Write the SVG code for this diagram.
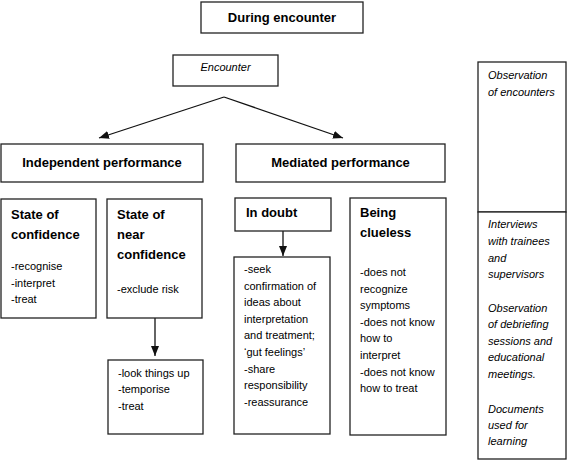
<svg xmlns="http://www.w3.org/2000/svg" width="568" height="461" viewBox="0 0 568 461">
<style>
rect.box{fill:#fff;stroke:#222;stroke-width:1.3}
text{font-family:"Liberation Sans",Arial,sans-serif;fill:#000}
.h{font-weight:bold;font-size:13px}
.b{font-size:11px}
.i{font-style:italic;font-size:11px}
.c{text-anchor:middle}
.conn{stroke:#111;stroke-width:1.3;fill:none}
</style>
<defs>
<marker id="ah" markerUnits="userSpaceOnUse" markerWidth="10" markerHeight="8" refX="10" refY="4" orient="auto">
<path d="M0,0 L10,4 L0,8 z" fill="#111"/>
</marker>
</defs>
<rect width="568" height="461" fill="#fff"/>
<g id="connectors">
<line class="conn" x1="224" y1="97" x2="99" y2="138" marker-end="url(#ah)"/>
<line class="conn" x1="224" y1="97" x2="343" y2="138" marker-end="url(#ah)"/>
<line class="conn" x1="155" y1="318" x2="155" y2="356" marker-end="url(#ah)"/>
<line class="conn" x1="283" y1="231" x2="283" y2="256" marker-end="url(#ah)"/>
</g>
<g id="during">
<rect class="box" x="201" y="2" width="162" height="31"/>
<text class="h c" x="282" y="22">During encounter</text>
</g>
<g id="encounter">
<rect class="box" x="173" y="55" width="105" height="31"/>
<text class="i c" x="225.5" y="71">Encounter</text>
</g>
<g id="independent">
<rect class="box" x="1" y="144" width="202" height="38"/>
<text class="h c" x="102" y="167">Independent performance</text>
</g>
<g id="mediated">
<rect class="box" x="236" y="144" width="209" height="38"/>
<text class="h c" x="340.5" y="167">Mediated performance</text>
</g>
<g id="confidence">
<rect class="box" x="1" y="199" width="95" height="119"/>
<text class="h" x="11" y="219">State of</text>
<text class="h" x="11" y="239">confidence</text>
<text class="b" x="11" y="270">-recognise</text>
<text class="b" x="11" y="287">-interpret</text>
<text class="b" x="11" y="303">-treat</text>
</g>
<g id="near-confidence">
<rect class="box" x="107" y="199" width="95" height="119"/>
<text class="h" x="117" y="219">State of</text>
<text class="h" x="117" y="239">near</text>
<text class="h" x="117" y="259">confidence</text>
<text class="b" x="117" y="293">-exclude risk</text>
</g>
<g id="near-actions">
<rect class="box" x="108" y="360" width="95" height="74"/>
<text class="b" x="118" y="377">-look things up</text>
<text class="b" x="118" y="393">-temporise</text>
<text class="b" x="118" y="410">-treat</text>
</g>
<g id="in-doubt">
<rect class="box" x="235" y="198" width="96" height="33"/>
<text class="h" x="246" y="217">In doubt</text>
</g>
<g id="doubt-actions">
<rect class="box" x="234" y="257" width="96" height="177"/>
<text class="b" x="244" y="273">-seek</text>
<text class="b" x="244" y="289.6">confirmation of</text>
<text class="b" x="244" y="306.2">ideas about</text>
<text class="b" x="244" y="322.8">interpretation</text>
<text class="b" x="244" y="339.4">and treatment;</text>
<text class="b" x="244" y="356">‘gut feelings’</text>
<text class="b" x="244" y="372.6">-share</text>
<text class="b" x="244" y="389.2">responsibility</text>
<text class="b" x="244" y="405.8">-reassurance</text>
</g>
<g id="clueless">
<rect class="box" x="350" y="198" width="96" height="237"/>
<text class="h" x="360" y="217">Being</text>
<text class="h" x="360" y="237">clueless</text>
<text class="b" x="360" y="276">-does not</text>
<text class="b" x="360" y="292.6">recognize</text>
<text class="b" x="360" y="309.2">symptoms</text>
<text class="b" x="360" y="325.8">-does not know</text>
<text class="b" x="360" y="342.4">how to</text>
<text class="b" x="360" y="359">interpret</text>
<text class="b" x="360" y="375.6">-does not know</text>
<text class="b" x="360" y="392.2">how to treat</text>
</g>
<g id="source-observation">
<rect class="box" x="478" y="62" width="88" height="150"/>
<text class="i" x="488" y="79">Observation</text>
<text class="i" x="488" y="96">of encounters</text>
</g>
<g id="source-other">
<rect class="box" x="478" y="212" width="88" height="247"/>
<text class="i" x="488" y="228">Interviews</text>
<text class="i" x="488" y="245">with trainees</text>
<text class="i" x="488" y="262">and</text>
<text class="i" x="488" y="278">supervisors</text>
<text class="i" x="488" y="312">Observation</text>
<text class="i" x="488" y="328">of debriefing</text>
<text class="i" x="488" y="345">sessions and</text>
<text class="i" x="488" y="361">educational</text>
<text class="i" x="488" y="378">meetings.</text>
<text class="i" x="488" y="413">Documents</text>
<text class="i" x="488" y="429">used for</text>
<text class="i" x="488" y="445">learning</text>
</g>
</svg>
